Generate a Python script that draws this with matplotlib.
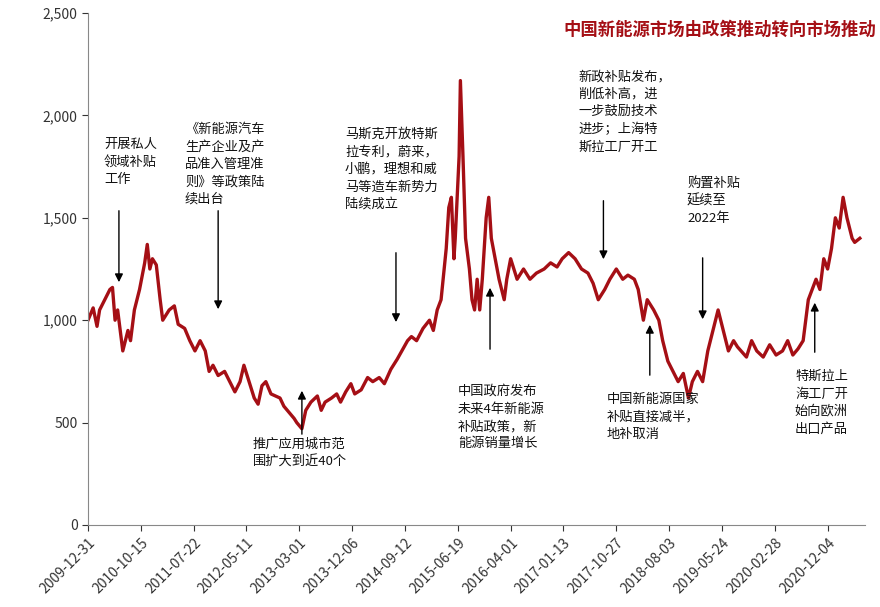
import matplotlib
matplotlib.use("Agg")
import matplotlib.pyplot as plt
from matplotlib.ticker import FuncFormatter

plt.rcParams["font.family"] = ["Noto Sans CJK SC", "DejaVu Sans"]

# week index from 2009-12-31 and index level
weeks = [0, 4, 7, 9, 13, 17, 19, 21, 23, 27, 31, 33, 36, 40, 44, 46, 48, 50, 53, 56, 58,
         63, 67, 70, 75, 79, 83, 87, 91, 94, 97, 101, 106, 110, 114, 118, 121, 125, 129,
         132, 135, 138, 142, 149, 152, 156, 160, 162, 166, 169, 173, 178, 181, 184, 189,
         193, 196, 200, 204, 207, 212, 217, 221, 226, 230, 235, 240, 248, 251, 255, 260,
         265, 268, 271, 274, 278, 280, 282, 284, 285, 288, 289, 291, 293, 296, 298, 300,
         302, 304, 306, 309, 311, 313, 316, 319, 323, 325, 328, 333, 338, 343, 348, 354,
         359, 364, 368, 373, 378, 383, 388, 392, 396, 401, 405, 410, 415, 419, 424, 427,
         431, 434, 439, 443, 446, 450, 454, 458, 462, 466, 469, 473, 477, 481, 485, 489,
         493, 497, 501, 504, 511, 515, 519, 524, 529, 534, 539, 543, 547, 551, 555, 559,
         562, 565, 568, 571, 574, 577, 580, 583, 586, 589, 593, 595, 599]
values = [1000, 1060, 970, 1050, 1100, 1150, 1160, 1000, 1050, 850, 950, 900, 1050, 1150,
          1280, 1370, 1250, 1300, 1270, 1100, 1000, 1050, 1070, 980, 960, 900, 850, 900,
          850, 750, 780, 730, 750, 700, 650, 700, 780, 700, 620, 590, 680, 700, 640, 620,
          580, 550, 520, 500, 470, 560, 600, 630, 560, 600, 620, 640, 600, 650, 690, 640,
          660, 720, 700, 720, 690, 760, 810, 900, 920, 900, 960, 1000, 950, 1050, 1100,
          1350, 1550, 1600, 1300, 1400, 1800, 2170, 1800, 1400, 1250, 1100, 1050, 1200,
          1050, 1200, 1500, 1600, 1400, 1300, 1200, 1100, 1200, 1300, 1200, 1250, 1200,
          1230, 1250, 1280, 1260, 1300, 1330, 1300, 1250, 1230, 1180, 1100, 1150, 1200,
          1250, 1200, 1220, 1200, 1150, 1000, 1100, 1050, 1000, 900, 800, 750, 700, 740,
          620, 700, 750, 700, 850, 950, 1050, 950, 850, 900, 870, 820, 900, 850, 820, 880,
          830, 850, 900, 830, 860, 900, 1100, 1150, 1200, 1150, 1300, 1250, 1350, 1500,
          1450, 1600, 1500, 1400, 1380, 1400]

tick_labels = ["2009-12-31", "2010-10-15", "2011-07-22", "2012-05-11", "2013-03-01",
               "2013-12-06", "2014-09-12", "2015-06-19", "2016-04-01", "2017-01-13",
               "2017-10-27", "2018-08-03", "2019-05-24", "2020-02-28", "2020-12-04"]
tick_step = 41

# (week, arrow start value, arrow end value, text, text x px, text top y px)
notes = [
    (24, 1548, 1172, "开展私人\n领域补贴\n工作", 104, 138),
    (101, 1548, 1040, "《新能源汽车\n生产企业及产\n品准入管理准\n则》等政策陆\n续出台", 185, 123),
    (166, 430, 669, "推广应用城市范\n围扩大到近40个", 253, 438),
    (239, 1343, 977, "马斯克开放特斯\n拉专利，蔚来，\n小鹏，理想和威\n马等造车新势力\n陆续成立", 345, 128),
    (312, 845, 1172, "中国政府发布\n未来4年新能源\n补贴政策，新\n能源销量增长", 458, 385),
    (400, 1597, 1284, "新政补贴发布，\n削低补高，进\n一步鼓励技术\n进步；上海特\n斯拉工厂开工", 578, 70),
    (436, 718, 991, "中国新能源国家\n补贴直接减半，\n地补取消", 607, 393),
    (477, 1318, 991, "购置补贴\n延续至\n2022年", 687, 177),
    (564, 830, 1099, "特斯拉上\n海工厂开\n始向欧洲\n出口产品", 795, 370),
]

W, H = 880, 607
fig = plt.figure(figsize=(W / 100, H / 100), dpi=100)
ax = fig.add_axes([88 / W, 1 - 525 / H, (865 - 88) / W, (525 - 13) / H])

ax.plot(weeks, values, color="#A50F15", lw=2.4)
ax.set_xlim(0, 603)
ax.set_ylim(0, 2500)
ax.set_yticks(range(0, 2501, 500))
ax.yaxis.set_major_formatter(FuncFormatter(lambda v, _: f"{int(v):,}"))
ax.set_xticks([i * tick_step for i in range(len(tick_labels))])
ax.set_xticklabels(tick_labels, rotation=45, ha="right", rotation_mode="anchor")
ax.tick_params(labelsize=10, colors="#333333", length=4)
for s in ["top", "right"]:
    ax.spines[s].set_visible(False)
for s in ["left", "bottom"]:
    ax.spines[s].set_color("#888888")

for wk, y0, y1, txt, tx, ty in notes:
    ax.annotate("", xy=(wk, y1), xytext=(wk, y0),
                arrowprops=dict(arrowstyle="-|>", color="black", lw=1, mutation_scale=12))
    fig.text(tx / W, 1 - ty / H, txt, va="top", ha="left", fontsize=9.5,
             linespacing=1.45, color="#111111")

fig.text(876 / W, 1 - 30 / H, "中国新能源市场由政策推动转向市场推动", ha="right", va="center",
         fontsize=12.5, fontweight="bold", color="#A50F15")

fig.savefig("out.png", dpi=100)
